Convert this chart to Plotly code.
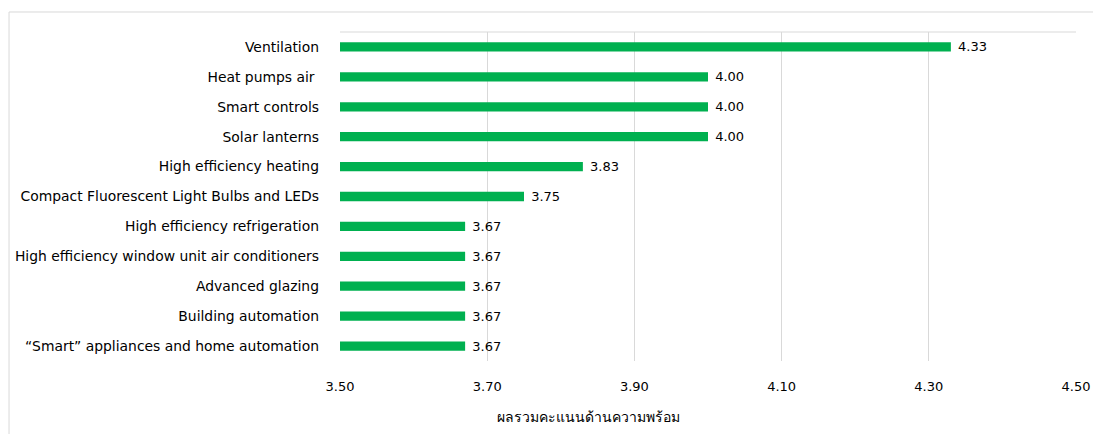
import plotly.graph_objects as go

# Readiness scores per technology
categories = [
    "Ventilation",
    "Heat pumps air ",
    "Smart controls",
    "Solar lanterns",
    "High efficiency heating",
    "Compact Fluorescent Light Bulbs and LEDs",
    "High efficiency refrigeration",
    "High efficiency window unit air conditioners",
    "Advanced glazing",
    "Building automation",
    "\u201cSmart\u201d appliances and home automation",
]
scores = [4.33, 4.00, 4.00, 4.00, 3.83, 3.75, 3.67, 3.67, 3.67, 3.67, 3.67]
x_ticks = [3.50, 3.70, 3.90, 4.10, 4.30, 4.50]
x_title = "ผลรวมคะแนนด้านความพร้อม"

FONT = "DejaVu Sans, Noto Sans, sans-serif"
GREEN = "#00B050"
GRID = "#D9D9D9"

fig = go.Figure(
    go.Bar(
        x=scores,
        y=categories,
        orientation="h",
        marker=dict(color=GREEN, line=dict(width=0)),
        width=0.31,
        text=[f"\u00a0{v:.2f}" for v in scores],
        textposition="outside",
        constraintext="none",
        textfont=dict(family=FONT, size=13, color="#000000"),
        cliponaxis=True,
        hoverinfo="skip",
    )
)

fig.update_layout(
    width=1093,
    height=434,
    margin=dict(l=340, r=17, t=32, b=73, autoexpand=False),
    paper_bgcolor="white",
    plot_bgcolor="white",
    showlegend=False,
    font=dict(family=FONT, size=13, color="#000000"),
    shapes=[
        # outer chart frame
        dict(type="rect", xref="paper", yref="paper",
             x0=-0.4497, x1=1.2, y0=-0.5, y1=1.0608,
             line=dict(color="#D9D9D9", width=1), layer="below"),
        # top edge of the plot area
        dict(type="line", xref="paper", yref="paper",
             x0=0, x1=1, y0=1, y1=1,
             line=dict(color=GRID, width=1)),
    ],
    annotations=[
        dict(text=x_title, xref="paper", yref="paper",
             x=0.337, y=-0.17, xanchor="center", yanchor="middle",
             showarrow=False,
             font=dict(family=FONT, size=14, color="#000000")),
    ],
)

fig.update_xaxes(
    range=[3.5, 4.5],
    tickvals=x_ticks,
    ticktext=[f"{t:.2f}" for t in x_ticks],
    showgrid=True,
    gridcolor=GRID,
    gridwidth=1,
    zeroline=False,
    showline=False,
    ticks="",
    automargin=False,
    ticklabelstandoff=16,
    tickfont=dict(family=FONT, size=13, color="#000000"),
)
fig.update_yaxes(
    autorange="reversed",
    showgrid=False,
    zeroline=False,
    showline=False,
    ticks="",
    automargin=False,
    ticklabelstandoff=20,
    tickfont=dict(family=FONT, size=13.9, color="#000000"),
)

fig.write_html("out.html")
